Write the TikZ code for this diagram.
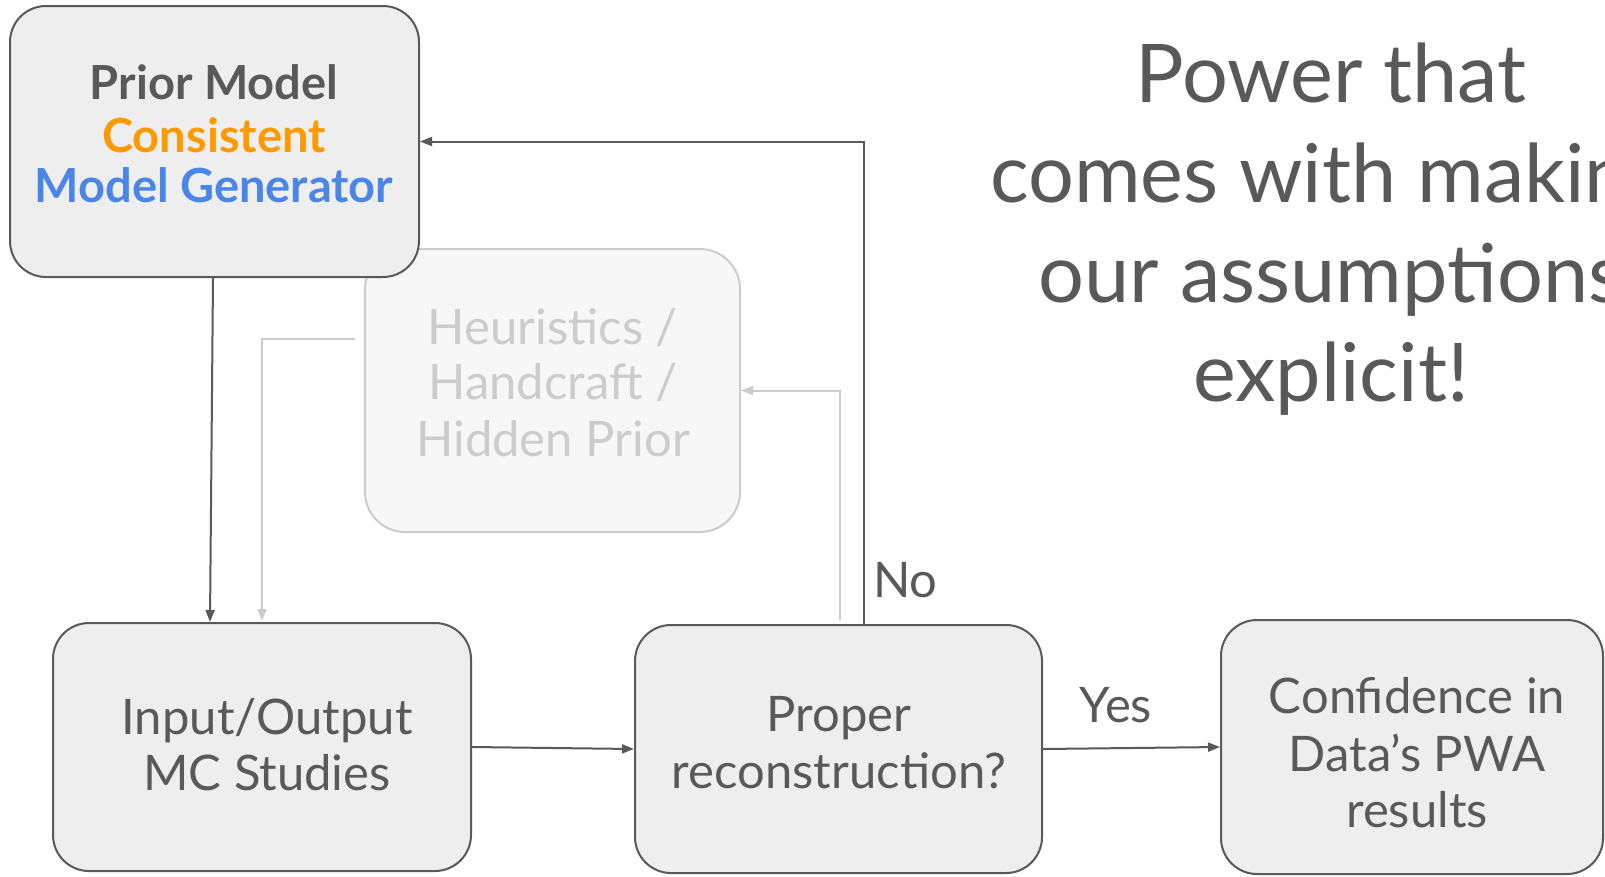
\documentclass[tikz,border=0pt]{standalone}
\usepackage{fontspec}
\setmainfont{Lato}
\usetikzlibrary{arrows.meta}
\definecolor{dk}{HTML}{595959}
\definecolor{boxfill}{HTML}{EEEEEE}
\definecolor{lt}{HTML}{CCCCCC}
\definecolor{ltfill}{HTML}{F7F7F7}
\definecolor{orng}{HTML}{FF9900}
\definecolor{blu}{HTML}{4A86E8}
\begin{document}
\begin{tikzpicture}[x=1pt,y=-1pt,
  box/.style={draw=dk, fill=boxfill, line width=2pt, rounded corners=36pt, inner sep=0pt},
  ghostbox/.style={draw=lt, fill=ltfill, line width=2pt, rounded corners=40pt, inner sep=0pt},
  txt/.style={inner sep=0pt, anchor=base, text=dk, font=\fontsize{49}{56}\selectfont},
  btxt/.style={txt, font=\fontsize{47}{52}\selectfont\bfseries},
  gtxt/.style={txt, text=lt},
  bigtxt/.style={inner sep=0pt, anchor=base, text=dk, font=\fontsize{81}{100}\selectfont},
  darrow/.style={draw=dk, line width=2pt, -{Triangle[length=12pt,width=9pt]}},
  garrow/.style={draw=lt, line width=2pt, -{Triangle[length=12pt,width=9pt]}}]
\useasboundingbox (0,0) rectangle (1605,876);
\clip (0,0) rectangle (1605,876);
\fill[white] (0,0) rectangle (1605,876);

% boxes
\node[ghostbox, minimum width=375pt, minimum height=283pt] (heur) at (552.5,390.5) {};
\node[box, minimum width=409pt, minimum height=271pt] (prior) at (214.5,141.5) {};
\node[box, minimum width=418pt, minimum height=248pt] (inp) at (262,747) {};
\node[box, minimum width=407pt, minimum height=248pt] (prop) at (838.5,749) {};
\node[box, minimum width=382pt, minimum height=254pt] (conf) at (1412,747) {};

% texts
\node[btxt] (p1) at (214,99) {Prior Model};
\node[btxt, text=orng] (p2) at (214,152) {Consistent};
\node[btxt, text=blu] (p3) at (214,202) {Model Generator};

\node[gtxt] (h1) at (553,344) {Heuristics /};
\node[gtxt] (h2) at (553,399) {Handcraft /};
\node[gtxt] (h3) at (553,456) {Hidden Prior};

\node[txt] (i1) at (267,734) {Input/Output};
\node[txt] (i2) at (267,790) {MC Studies};

\node[txt] (r1) at (839,731) {Proper};
\node[txt] (r2) at (839,788) {reconstruction?};

\node[txt] (c1) at (1417,713) {Confidence in};
\node[txt] (c2) at (1417,771) {Data’s PWA};
\node[txt] (c3) at (1417,827) {results};

\node[txt, anchor=base west] (no) at (873,597) {No};
\node[txt] (yes) at (1116,722) {Yes};

\node[bigtxt] (b1) at (1331,102) {Power that};
\node[bigtxt] (b2) at (1331,202) {comes with making};
\node[bigtxt] (b3) at (1331,302) {our assumptions};
\node[bigtxt] (b4) at (1331,401) {explicit!};

% connectors
\draw[darrow] ([xshift=204pt]prior.south west) -- ([xshift=158pt]inp.north west);
\coordinate (gstart) at (355,339);
\draw[garrow] (gstart) -| ([xshift=210pt,yshift=1pt]inp.north west);
\draw[darrow] (inp.east) -- (prop.west);
\draw[darrow] (prop.east) -- (conf.west);
\draw[darrow] ([xshift=230pt]prop.north west) |- (prior.east);
\draw[garrow] ([xshift=206pt,yshift=4pt]prop.north west) |- (heur.east);
\end{tikzpicture}
\end{document}
